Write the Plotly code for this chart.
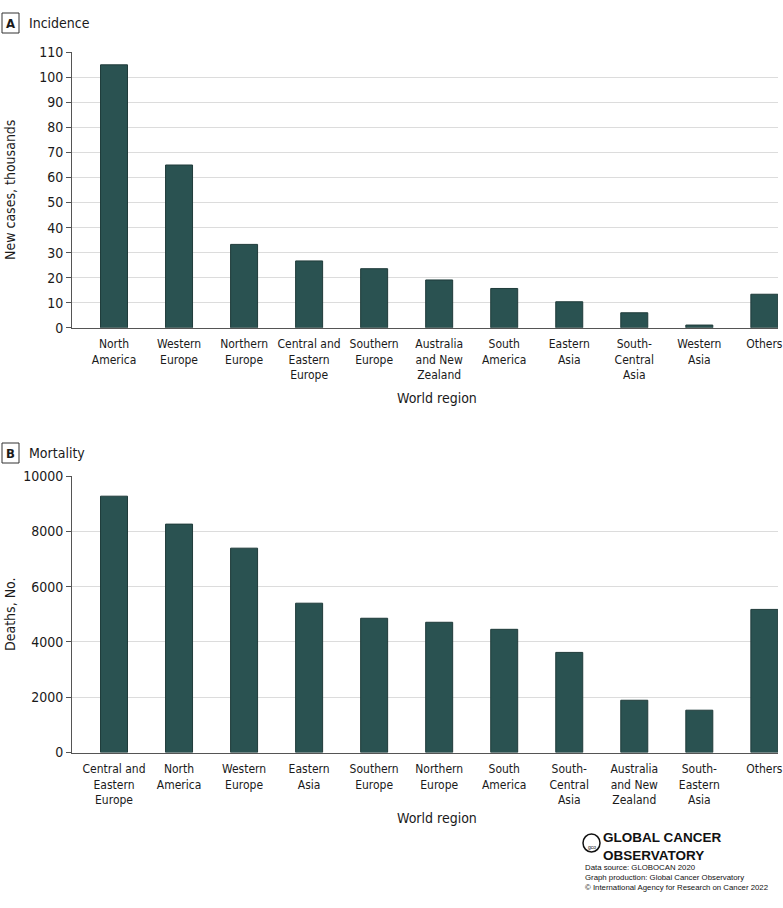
import plotly.graph_objects as go

W, H = 783, 908

inc_regions = ["North<br>America", "Western<br>Europe", "Northern<br>Europe",
               "Central and<br>Eastern<br>Europe", "Southern<br>Europe",
               "Australia<br>and New<br>Zealand", "South<br>America", "Eastern<br>Asia",
               "South-<br>Central<br>Asia", "Western<br>Asia", "Others"]
inc_values = [105.0, 65.0, 33.3, 26.7, 23.6, 19.1, 15.7, 10.4, 6.0, 1.1, 13.4]

mort_regions = ["Central and<br>Eastern<br>Europe", "North<br>America", "Western<br>Europe",
                "Eastern<br>Asia", "Southern<br>Europe", "Northern<br>Europe",
                "South<br>America", "South-<br>Central<br>Asia", "Australia<br>and New<br>Zealand",
                "South-<br>Eastern<br>Asia", "Others"]
mort_values = [9270, 8260, 7390, 5400, 4855, 4710, 4455, 3620, 1890, 1530, 5175]

inc_ticks = [0, 10, 20, 30, 40, 50, 60, 70, 80, 90, 100, 110]
mort_ticks = [0, 2000, 4000, 6000, 8000, 10000]

FONT = "DejaVu Sans Condensed, Roboto, sans-serif"
BAR = "#2a5251"
BAR_LINE = "#1f3b3a"
GRID = "#dcdcdc"
AXIS = "#555555"
TXT = "#1a1a1a"


def px(x):
    return x / W


def py(y):
    return 1 - y / H


fig = go.Figure()
fig.add_trace(go.Bar(x=inc_regions, y=inc_values, xaxis="x", yaxis="y",
                     marker=dict(color=BAR, line=dict(color=BAR_LINE, width=1)),
                     width=0.415, showlegend=False, hoverinfo="skip"))
fig.add_trace(go.Bar(x=mort_regions, y=mort_values, xaxis="x2", yaxis="y2",
                     marker=dict(color=BAR, line=dict(color=BAR_LINE, width=1)),
                     width=0.415, showlegend=False, hoverinfo="skip"))

xdom = [px(72), px(778)]
xcommon = dict(type="category", range=[-0.646, 10.21], showgrid=False,
               showline=True, linecolor=AXIS, linewidth=1, ticks="", tickangle=0,
               automargin=False, ticklabelstandoff=5,
               tickfont=dict(family=FONT, size=12, color=TXT), fixedrange=True)
ycommon = dict(showgrid=True, gridcolor=GRID, gridwidth=1, showline=True,
               linecolor=AXIS, linewidth=1, ticks="outside", ticklen=5,
               tickcolor=AXIS, tickfont=dict(family=FONT, size=14, color=TXT),
               zeroline=False, fixedrange=True, automargin=False)

fig.update_layout(
    width=W, height=H, margin=dict(l=0, r=0, t=0, b=0),
    paper_bgcolor="white", plot_bgcolor="white",
    bargap=0.5,
    xaxis=dict(domain=xdom, anchor="y", **xcommon),
    yaxis=dict(domain=[py(327.8), py(52.3)], range=[0, 110], tickvals=inc_ticks,
               anchor="x", **ycommon),
    xaxis2=dict(domain=xdom, anchor="y2", **xcommon),
    yaxis2=dict(domain=[py(752.5), py(476)], range=[0, 10000], tickvals=mort_ticks,
                tickformat="d", anchor="x2", **ycommon),
)

shapes = []
annotations = []
# panel labels
for letter, title, top in [("A", "Incidence", 13), ("B", "Mortality", 443)]:
    shapes.append(dict(type="rect", xref="paper", yref="paper",
                       x0=px(2), x1=px(19), y0=py(top + 20), y1=py(top),
                       line=dict(color="#333333", width=1)))
    annotations.append(dict(text="<b>" + letter + "</b>", x=px(10.5), y=py(top + 10),
                            xref="paper", yref="paper", showarrow=False,
                            xanchor="center", yanchor="middle",
                            font=dict(family=FONT, size=13, color=TXT)))
    annotations.append(dict(text=title, x=px(27), y=py(top + 10), xref="paper",
                            yref="paper", showarrow=False, xanchor="left",
                            yanchor="middle",
                            font=dict(family=FONT, size=14, color=TXT)))

# axis titles
for txt, yc in [("New cases, thousands", 190), ("Deaths, No.", 614)]:
    annotations.append(dict(text=txt, x=px(10), y=py(yc), xref="paper", yref="paper",
                            showarrow=False, textangle=-90, xanchor="center",
                            yanchor="middle", font=dict(family=FONT, size=14, color=TXT)))
for yc in [398, 818]:
    annotations.append(dict(text="World region", x=px(437), y=py(yc), xref="paper",
                            yref="paper", showarrow=False, xanchor="center",
                            yanchor="middle", font=dict(family=FONT, size=14, color=TXT)))

# logo / credits
annotations.append(dict(text="<b>GLOBAL CANCER<br>OBSERVATORY</b>", x=px(602), y=py(846.5),
                        xref="paper", yref="paper", showarrow=False, xanchor="left",
                        yanchor="middle", align="left", borderpad=0,
                        font=dict(family="Liberation Sans, Arial, sans-serif", size=13.5,
                                  color="#111111")))
shapes.append(dict(type="circle", xref="paper", yref="paper",
                   x0=px(583), x1=px(600), y0=py(852), y1=py(834),
                   line=dict(color="#111111", width=1.5)))
annotations.append(dict(text="gco", x=px(591.5), y=py(847), xref="paper", yref="paper",
                        showarrow=False, xanchor="center", yanchor="middle", borderpad=0,
                        font=dict(family="Liberation Sans, Arial", size=5, color="#111111")))
annotations.append(dict(text="Data source: GLOBOCAN 2020<br>Graph production: Global Cancer Observatory"
                             "<br>© International Agency for Research on Cancer 2022",
                        x=px(584), y=py(877), xref="paper", yref="paper", showarrow=False,
                        xanchor="left", yanchor="middle", align="left", borderpad=0,
                        font=dict(family="Liberation Sans, Arial, sans-serif", size=7.8,
                                  color="#111111")))

fig.update_layout(shapes=shapes, annotations=annotations)
fig.write_html("out.html", config={"displayModeBar": False},
               post_script="document.body.style.margin='0px';")
